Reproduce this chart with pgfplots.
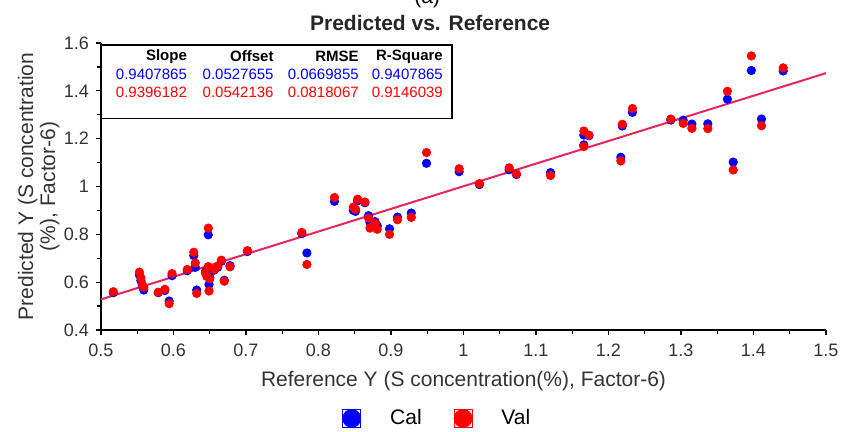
\documentclass[border=0pt]{standalone}
\usepackage{fontspec}
\setmainfont{Liberation Sans}
\usepackage{pgfplots}
\usepackage{pgfplotstable}
\pgfplotsset{compat=1.18}
\usetikzlibrary{calc}

\definecolor{calblue}{RGB}{0,0,255}
\definecolor{valred}{RGB}{255,0,0}
\definecolor{fitline}{RGB}{235,35,95}

% reference, predicted (cal), predicted (val)
\pgfplotstableread{
x      cal    val
0.517  0.556  0.560
0.553  0.630  0.642
0.555  0.607  0.618
0.557  0.585  0.590
0.559  0.567  0.579
0.579  0.556  0.558
0.588  0.565  0.570
0.594  0.521  0.510
0.598  0.627  0.636
0.619  0.648  0.653
0.628  0.711  0.725
0.630  0.662  0.680
0.632  0.567  0.553
0.644  0.643  0.639
0.646  0.628  0.624
0.648  0.660  0.665
0.649  0.590  0.563
0.648  0.798  0.826
0.650  0.620  0.614
0.656  0.650  0.653
0.661  0.662  0.667
0.666  0.687  0.692
0.670  0.608  0.604
0.678  0.669  0.664
0.702  0.728  0.732
0.777  0.803  0.808
0.784  0.722  0.674
0.822  0.938  0.954
0.848  0.900  0.914
0.851  0.896  0.905
0.854  0.940  0.947
0.864  0.932  0.935
0.869  0.878  0.868
0.871  0.850  0.826
0.878  0.853  0.846
0.881  0.835  0.821
0.898  0.823  0.800
0.909  0.872  0.861
0.928  0.889  0.871
0.949  1.097  1.142
0.994  1.062  1.074
1.022  1.008  1.012
1.063  1.070  1.078
1.073  1.050  1.053
1.120  1.058  1.046
1.166  1.215  1.232
1.166  1.174  1.167
1.173  1.212  1.215
1.217  1.122  1.107
1.219  1.253  1.260
1.233  1.310  1.326
1.286  1.278  1.282
1.303  1.277  1.264
1.315  1.261  1.243
1.337  1.262  1.242
1.364  1.365  1.398
1.372  1.102  1.069
1.397  1.485  1.546
1.411  1.282  1.254
1.441  1.483  1.496
}\scatterdata

\newcommand{\fs}[1]{\fontsize{#1}{#1}\selectfont}

\begin{document}
\begin{tikzpicture}
\begin{axis}[
  name=ax,
  scale only axis,
  width=362.5pt, height=143.5pt,
  xmin=0.5, xmax=1.5, ymin=0.4, ymax=1.6,
  xtick={0.5,0.6,...,1.5}, ytick={0.4,0.6,...,1.6},
  minor tick num=1,
  axis x line*=bottom, axis y line*=left,
  axis line style={line width=0.8pt},
  tick align=outside,
  major tick length=2.5pt, minor tick length=1.8pt,
  tick style={black, line width=0.6pt},
  /pgf/number format/assume math mode=true,
  tick label style={font=\fs{9}, text=black!80},
  xticklabel style={yshift=-1pt},
  xlabel={Reference Y (S concentration(\%), Factor-6)},
  every axis x label/.style={at={(axis description cs:0.5,-0.178)}, anchor=center, font=\fs{10.5}, text=black!80},
  ylabel={Predicted Y (S concentration\\(\%), Factor-6)},
  every axis y label/.style={at={(axis description cs:-0.0860,0.5)}, rotate=90, anchor=center, align=center, font=\fontsize{10.5}{11}\selectfont, text=black!80},
  clip=false,
  legend columns=2,
  legend style={draw=none, fill=none, at={(axis description cs:0.3324,-0.308)}, anchor=west,
    inner xsep=0pt, inner ysep=0pt, nodes={inner sep=0pt}, cells={anchor=west}, font=\fs{10.5},
    /tikz/every odd column/.append style={column sep=14.5pt},
    /tikz/every even column/.append style={column sep=16pt}},
]
  \addplot[fitline, line width=1pt, forget plot] coordinates {(0.5,0.528) (1.5,1.474)};
  \addplot[only marks, mark=*, mark size=2.1pt, calblue, mark options={draw=none, fill=calblue},
    legend image code/.code={\draw[mark size=4.5pt] plot coordinates {(4.5pt,0pt)}; \path (0pt,-4.5pt) rectangle (9pt,4.5pt);}]
    table[x=x, y=cal] {\scatterdata};
  \addlegendentry{Cal}
  \addplot[only marks, mark=*, mark size=2.1pt, valred, mark options={draw=none, fill=valred},
    legend image code/.code={\draw[mark size=4.5pt] plot coordinates {(4.5pt,0pt)}; \path (0pt,-4.5pt) rectangle (9pt,4.5pt);}]
    table[x=x, y=val] {\scatterdata};
  \addlegendentry{Val}

  % statistics box
  \draw[line width=0.8pt, fill=white] (axis cs:0.5,1.592) rectangle (axis cs:0.984,1.285);
  \node[anchor=east, font=\bfseries\fs{7.5}, inner sep=0pt] at (axis cs:0.619,1.543) {Slope};
  \node[anchor=east, font=\bfseries\fs{7.5}, inner sep=0pt] at (axis cs:0.7386,1.543) {Offset};
  \node[anchor=east, font=\bfseries\fs{7.5}, inner sep=0pt] at (axis cs:0.856,1.543) {RMSE};
  \node[anchor=east, font=\bfseries\fs{7.5}, inner sep=0pt] at (axis cs:0.972,1.543) {R-Square};
  \node[anchor=east, font=\fs{7.5}, text=calblue, inner sep=0pt] at (axis cs:0.619,1.469) {0.9407865};
  \node[anchor=east, font=\fs{7.5}, text=calblue, inner sep=0pt] at (axis cs:0.7386,1.469) {0.0527655};
  \node[anchor=east, font=\fs{7.5}, text=calblue, inner sep=0pt] at (axis cs:0.856,1.469) {0.0669855};
  \node[anchor=east, font=\fs{7.5}, text=calblue, inner sep=0pt] at (axis cs:0.972,1.469) {0.9407865};
  \node[anchor=east, font=\fs{7.5}, text=valred, inner sep=0pt] at (axis cs:0.619,1.394) {0.9396182};
  \node[anchor=east, font=\fs{7.5}, text=valred, inner sep=0pt] at (axis cs:0.7386,1.394) {0.0542136};
  \node[anchor=east, font=\fs{7.5}, text=valred, inner sep=0pt] at (axis cs:0.856,1.394) {0.0818067};
  \node[anchor=east, font=\fs{7.5}, text=valred, inner sep=0pt] at (axis cs:0.972,1.394) {0.9146039};

  % titles
  \node[font=\bfseries\fs{10.5}, text=black!85, inner sep=0pt] at (axis description cs:0.454,1.0714) {Predicted vs. Reference};
  \node[font=\fs{10.5}, anchor=base, inner sep=0pt] at (axis description cs:0.45,1.139) {(a)};
\end{axis}
\pgfresetboundingbox
\path[use as bounding box] ($(ax.south west)+(-50.5pt,-51pt)$) rectangle ($(ax.north east)+(8.5pt,21.5pt)$);
\end{tikzpicture}
\end{document}
